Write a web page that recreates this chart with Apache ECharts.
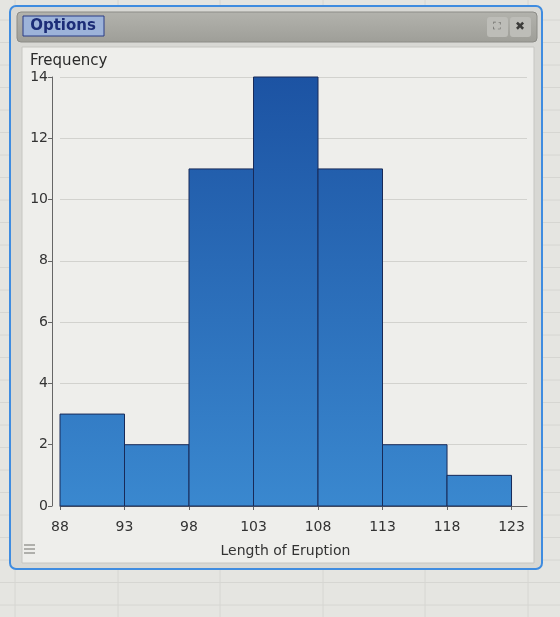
<!DOCTYPE html>
<html>
<head>
<meta charset="utf-8">
<script src="https://cdn.jsdelivr.net/npm/echarts@6/dist/echarts.min.js"></script>
<style>
  html, body { margin: 0; padding: 0; background: #e5e5e1; }
  #chart { width: 560px; height: 617px; }
</style>
</head>
<body>
<div id="chart"></div>
<script>
// histogram data
const binEdges = [88, 93, 98, 103, 108, 113, 118, 123];
const frequencies = [3, 2, 11, 14, 11, 2, 1];
const yTicks = [0, 2, 4, 6, 8, 10, 12, 14];

const bins = frequencies.map((f, i) => [binEdges[i], binEdges[i + 1], f]);

const chart = echarts.init(document.getElementById('chart'));

// spreadsheet lines behind the window
const sheet = [];
[15, 118, 220, 323, 425, 528].forEach(x => {
  sheet.push({ type: 'line', z: -30, shape: { x1: x, y1: 0, x2: x, y2: 617 }, style: { stroke: '#d6d6d2', lineWidth: 1 } });
});
for (let y = 20; y < 617; y += 22.5) {
  sheet.push({ type: 'line', z: -30, shape: { x1: 0, y1: y, x2: 560, y2: y }, style: { stroke: '#d6d6d2', lineWidth: 1 } });
}

const chrome = [
  // window
  { type: 'rect', z: -20, shape: { x: 10, y: 6, width: 532, height: 563, r: 6 }, style: { fill: '#d8d8d4', stroke: '#3f8ce0', lineWidth: 2 } },
  // title bar
  { type: 'rect', z: -19, shape: { x: 17, y: 12, width: 520, height: 30, r: 4 },
    style: { fill: { type: 'linear', x: 0, y: 0, x2: 0, y2: 1, colorStops: [{ offset: 0, color: '#b3b3ad' }, { offset: 1, color: '#9e9e98' }] }, stroke: '#8c8c87', lineWidth: 1 } },
  { type: 'rect', z: -18, shape: { x: 23, y: 16, width: 81, height: 20 }, style: { fill: '#9db3d9', stroke: '#2a3d86', lineWidth: 1 } },
  { type: 'text', z: -17, style: { x: 63, y: 26, text: 'Options', align: 'center', verticalAlign: 'middle', fill: '#1c2d78', font: 'bold 15px "DejaVu Sans"' } },
  { type: 'rect', z: -18, shape: { x: 487, y: 17, width: 21, height: 20, r: 3 }, style: { fill: '#bdbdb8' } },
  { type: 'text', z: -17, style: { x: 497, y: 27, text: '⛶', align: 'center', verticalAlign: 'middle', fill: '#6a6a66', font: '11px "DejaVu Sans"' } },
  { type: 'rect', z: -18, shape: { x: 510, y: 17, width: 21, height: 20, r: 3 }, style: { fill: '#bdbdb8' } },
  { type: 'text', z: -17, style: { x: 520, y: 27, text: '✖', align: 'center', verticalAlign: 'middle', fill: '#3c3c3a', font: 'bold 12px "DejaVu Sans"' } },
  // chart area
  { type: 'rect', z: -16, shape: { x: 22, y: 47, width: 512, height: 516 }, style: { fill: '#eeeeeb', stroke: '#c6c6c2', lineWidth: 1 } },
  // menu icon
  { type: 'line', z: -15, shape: { x1: 24, y1: 545, x2: 35, y2: 545 }, style: { stroke: '#9a9a96', lineWidth: 1.5 } },
  { type: 'line', z: -15, shape: { x1: 24, y1: 549, x2: 35, y2: 549 }, style: { stroke: '#9a9a96', lineWidth: 1.5 } },
  { type: 'line', z: -15, shape: { x1: 24, y1: 553, x2: 35, y2: 553 }, style: { stroke: '#9a9a96', lineWidth: 1.5 } }
];

const barFill = {
  type: 'linear', x: 0, y: 77, x2: 0, y2: 506, global: true,
  colorStops: [{ offset: 0, color: '#1c53a3' }, { offset: 1, color: '#3a88cf' }]
};

const option = {
  animation: false,
  backgroundColor: '#e5e5e1',
  textStyle: { fontFamily: 'DejaVu Sans' },
  title: {
    text: 'Frequency', left: 25, top: 49,
    textStyle: { fontSize: 15, fontWeight: 'normal', color: '#2a2a2a', fontFamily: 'DejaVu Sans' }
  },
  graphic: sheet.concat(chrome),
  grid: { left: 60, right: 33, top: 77, bottom: 111 },
  xAxis: {
    type: 'value', min: 88, max: 124.2, interval: 5,
    offset: 8,
    name: 'Length of Eruption', nameLocation: 'middle', nameGap: 30,
    nameTextStyle: { fontSize: 14, color: '#333', padding: [0, 16, 0, 0] },
    axisLine: { show: true, lineStyle: { color: '#666' } },
    axisTick: { show: true, length: 4, customValues: binEdges, lineStyle: { color: '#666' } },
    axisLabel: { customValues: binEdges, fontSize: 14, color: '#333', margin: 6,
      formatter: v => (binEdges.indexOf(v) >= 0 ? String(v) : '') },
    splitLine: { show: false }
  },
  yAxis: {
    type: 'value', min: 0, max: 14, interval: 2,
    offset: 8,
    axisLine: { show: true, lineStyle: { color: '#666' } },
    axisTick: { show: true, length: 4, lineStyle: { color: '#666' } },
    axisLabel: { fontSize: 14, color: '#333', margin: 4 },
    splitLine: { show: true, lineStyle: { color: '#d2d2ce', width: 1 } }
  },
  series: [{
    type: 'custom',
    data: bins,
    encode: { x: [0, 1], y: 2 },
    renderItem: function (params, api) {
      const topLeft = api.coord([api.value(0), api.value(2)]);
      const bottomRight = api.coord([api.value(1), 0]);
      return {
        type: 'rect',
        shape: { x: topLeft[0], y: topLeft[1], width: bottomRight[0] - topLeft[0], height: bottomRight[1] - topLeft[1] },
        style: { fill: barFill, stroke: '#182a58', lineWidth: 1 }
      };
    }
  }]
};

chart.setOption(option);
</script>
</body>
</html>
